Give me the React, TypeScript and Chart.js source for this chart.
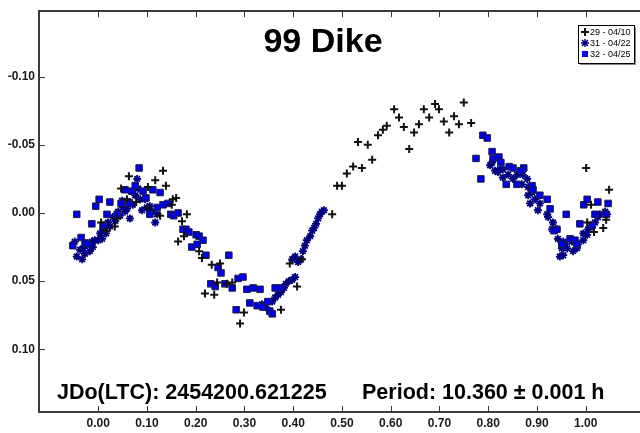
import React, { useEffect, useRef } from 'react';
import { Chart, registerables } from 'chart.js';

Chart.register(...registerables);

const TITLE = '99 Dike';
const JD_TEXT = 'JDo(LTC): 2454200.621225';
const PERIOD_TEXT = 'Period: 10.360 \u00b1 0.001 h';
const SERIES_LABELS = ['29 - 04/10', '31 - 04/22', '32 - 04/25'];

const X_TICKS = [0, 0.1, 0.2, 0.3, 0.4, 0.5, 0.6, 0.7, 0.8, 0.9, 1.0];
const Y_TICKS = [-0.1, -0.05, 0, 0.05, 0.1];
const X_MIN = -0.1214;
const X_MAX = 1.1114;
const Y_MIN = -0.148;
const Y_MAX = 0.146;

// Session 29 - 04/10 (black plus)
const set29: [number, number][] = [
  [0.133, -0.031], [0.063, -0.027], [0.117, -0.024], [0.139, -0.020], [0.047, -0.018],
  [0.102, -0.019], [0.059, -0.010], [0.078, -0.008], [0.153, -0.010], [0.160, -0.011],
  [0.127, 0.002], [0.182, 0.001], [0.172, 0.006], [0.006, 0.007], [0.039, 0.004],
  [0.018, 0.013], [0.034, 0.010], [0.164, 0.021], [0.176, 0.017], [0.151, -0.006],
  [0.102, -0.004], [0.207, 0.028], [0.213, 0.033],
  [0.233, 0.038], [0.250, 0.037], [0.219, 0.059], [0.238, 0.060], [0.244, 0.051],
  [0.264, 0.052], [0.275, 0.051], [0.291, 0.081], [0.299, 0.073], [0.375, 0.071],
  [0.408, 0.054], [0.393, 0.037], [0.418, 0.034], [0.480, 0.001],
  [0.490, -0.020], [0.500, -0.020], [0.510, -0.029], [0.523, -0.034], [0.541, -0.033],
  [0.562, -0.039], [0.533, -0.052], [0.553, -0.050], [0.574, -0.057], [0.584, -0.061],
  [0.592, -0.064], [0.607, -0.076], [0.617, -0.070], [0.627, -0.063], [0.638, -0.047],
  [0.648, -0.059], [0.658, -0.065], [0.668, -0.076], [0.679, -0.070], [0.691, -0.080],
  [0.699, -0.076], [0.709, -0.067], [0.720, -0.059], [0.730, -0.071], [0.740, -0.065],
  [0.750, -0.081], [0.765, -0.066],
  [1.001, -0.033], [1.048, -0.017], [1.011, -0.006], [1.003, 0.007], [1.042, 0.005],
  [1.017, 0.014], [1.036, 0.011],
];

// Session 31 - 04/22 (navy asterisk)
const set31: [number, number][] = [
  [-0.048, 0.021], [-0.044, 0.032], [-0.037, 0.027], [-0.031, 0.026], [-0.027, 0.030],
  [-0.021, 0.023], [-0.017, 0.028], [-0.011, 0.025], [-0.007, 0.020], [0.000, 0.020],
  [0.004, 0.015], [0.008, 0.019], [0.010, 0.012], [0.016, 0.015], [0.020, 0.007],
  [0.024, 0.010], [0.030, 0.003], [0.035, 0.006], [0.041, -0.001], [0.045, 0.002],
  [0.049, -0.009], [0.051, -0.004], [0.055, -0.001], [0.059, -0.003], [0.065, 0.004],
  [0.065, -0.008], [0.071, -0.006], [0.076, -0.013], [0.080, -0.025], [0.082, -0.018],
  [0.086, -0.010], [0.090, -0.002], [0.096, -0.010], [0.100, -0.004], [0.106, -0.005],
  [0.110, -0.001], [0.117, 0.007], [0.121, 0.001], [-0.033, 0.034], [-0.013, 0.021],
  [0.336, 0.067], [0.344, 0.069], [0.352, 0.072], [0.357, 0.065], [0.363, 0.062],
  [0.369, 0.060], [0.375, 0.058], [0.381, 0.055], [0.385, 0.052], [0.391, 0.050],
  [0.398, 0.049], [0.404, 0.047], [0.398, 0.034], [0.404, 0.032], [0.410, 0.036],
  [0.416, 0.034], [0.420, 0.028], [0.424, 0.024], [0.428, 0.020], [0.435, 0.017],
  [0.439, 0.013], [0.443, 0.011], [0.447, 0.008], [0.451, 0.004], [0.455, 0.001],
  [0.459, -0.001], [0.463, -0.002],
  [0.804, -0.035], [0.814, -0.031], [0.820, -0.030], [0.830, -0.032], [0.830, -0.026],
  [0.841, -0.028], [0.851, -0.025], [0.859, -0.028], [0.871, -0.028], [0.880, -0.025],
  [0.869, -0.021], [0.882, -0.019], [0.890, -0.015], [0.882, -0.013], [0.896, -0.010],
  [0.886, -0.007], [0.906, -0.007], [0.902, -0.002], [0.921, 0.001], [0.923, 0.003],
  [0.933, 0.007], [0.931, 0.012], [0.941, 0.012], [0.943, 0.019], [0.954, 0.021],
  [0.951, 0.026], [0.962, 0.026], [0.972, 0.021], [0.974, 0.028], [0.984, 0.023],
  [0.995, 0.020], [1.003, 0.016], [1.005, 0.012], [1.013, 0.010], [1.019, 0.007],
  [1.025, 0.003], [1.029, 0.001], [1.040, -0.001], [1.044, 0.001], [0.954, 0.031],
  [0.947, 0.032], [0.982, 0.026], [0.995, 0.015], [0.808, -0.037], [0.824, -0.032],
  [0.958, 0.023],
];

// Session 32 - 04/25 (blue square)
const set32: [number, number][] = [
  [-0.044, 0.001], [-0.052, 0.024], [-0.035, 0.018], [-0.027, 0.022], [-0.021, 0.023],
  [-0.013, 0.008], [-0.005, -0.005], [0.002, -0.010], [0.024, -0.008], [0.018, 0.001],
  [0.010, 0.009], [0.039, 0.001], [0.047, -0.007], [0.055, -0.017], [0.063, -0.007],
  [0.069, -0.016], [0.076, -0.020], [0.084, -0.033], [0.092, -0.016], [0.098, -0.011],
  [0.106, 0.001], [0.112, -0.017], [0.121, -0.004], [0.127, -0.015], [0.133, -0.006],
  [0.143, -0.007], [0.149, 0.001], [0.155, 0.002], [0.164, 0.000], [0.174, 0.012],
  [0.180, 0.012], [0.186, 0.014], [0.201, 0.016], [0.192, 0.025], [0.203, 0.023],
  [0.207, 0.017], [0.221, 0.031], [0.215, 0.020],
  [0.246, 0.040], [0.252, 0.044], [0.268, 0.031], [0.231, 0.052], [0.240, 0.054],
  [0.260, 0.052], [0.275, 0.055], [0.287, 0.048], [0.297, 0.047], [0.305, 0.056],
  [0.318, 0.055], [0.332, 0.056], [0.283, 0.071], [0.311, 0.066], [0.326, 0.068],
  [0.338, 0.069], [0.352, 0.072], [0.363, 0.055], [0.373, 0.055], [0.348, 0.065],
  [0.357, 0.074],
  [0.789, -0.057], [0.798, -0.055], [0.775, -0.040], [0.785, -0.025], [0.808, -0.045],
  [0.810, -0.040], [0.822, -0.041], [0.826, -0.037], [0.843, -0.034], [0.851, -0.033],
  [0.873, -0.033], [0.867, -0.031], [0.859, -0.021], [0.837, -0.021], [0.890, -0.020],
  [0.892, -0.017], [0.906, -0.013], [0.921, -0.010], [0.927, -0.003], [0.960, 0.001],
  [0.988, 0.008], [0.996, -0.006], [1.003, -0.010], [1.025, -0.008], [1.046, -0.007],
  [1.042, 0.001], [1.019, 0.001], [0.941, 0.012], [0.935, 0.013], [0.968, 0.019],
  [0.978, 0.020], [0.951, 0.023], [0.982, 0.023], [1.013, 0.009],
];

const FONT = '"Liberation Sans", Arial, Helvetica, sans-serif';
const AXIS_COLOR = '#3a3a3a';
const PLUS_COLOR = '#111111';
const STAR_COLOR = '#000080';
const SQUARE_FILL = '#0000F0';
const SQUARE_EDGE = '#1c1c3c';

const toXY = (arr: [number, number][]) => arr.map(([x, y]) => ({ x, y }));

const decorPlugin = {
  id: 'decor',
  afterDraw(chart: any) {
    const { ctx, chartArea: a, scales } = chart;
    const xs = scales.x;
    const ys = scales.y;
    ctx.save();
    ctx.strokeStyle = AXIS_COLOR;
    ctx.lineWidth = 1;
    ctx.beginPath();
    X_TICKS.forEach((v) => {
      const px = Math.round(xs.getPixelForValue(v)) + 0.5;
      ctx.moveTo(px, a.bottom);
      ctx.lineTo(px, a.bottom - 6);
      ctx.moveTo(px, a.top);
      ctx.lineTo(px, a.top + 6);
    });
    Y_TICKS.forEach((v) => {
      const py = Math.round(ys.getPixelForValue(v)) + 0.5;
      ctx.moveTo(a.left, py);
      ctx.lineTo(a.left + 6, py);
    });
    ctx.stroke();

    // Title
    ctx.fillStyle = '#000';
    ctx.textBaseline = 'middle';
    ctx.textAlign = 'center';
    ctx.font = `bold 34px ${FONT}`;
    ctx.fillText(TITLE, 323, 43);

    // Bottom annotations
    ctx.textAlign = 'left';
    ctx.font = `bold 21.5px ${FONT}`;
    ctx.fillText(JD_TEXT, 57, 393);
    ctx.fillText(PERIOD_TEXT, 362, 393);

    // Legend box
    const lx = 578, ly = 25, lw = 56, lh = 38;
    ctx.fillStyle = '#888';
    ctx.fillRect(lx + 2, ly + 2, lw, lh);
    ctx.fillStyle = '#fff';
    ctx.fillRect(lx, ly, lw, lh);
    ctx.strokeStyle = '#000';
    ctx.lineWidth = 1;
    ctx.strokeRect(lx + 0.5, ly + 0.5, lw, lh);

    const rows = [32, 43, 54];
    const mx = 585;
    // plus
    ctx.strokeStyle = PLUS_COLOR;
    ctx.lineWidth = 2;
    ctx.beginPath();
    ctx.moveTo(mx - 4, rows[0]); ctx.lineTo(mx + 4, rows[0]);
    ctx.moveTo(mx, rows[0] - 4); ctx.lineTo(mx, rows[0] + 4);
    ctx.stroke();
    // star
    ctx.strokeStyle = STAR_COLOR;
    ctx.lineWidth = 1.5;
    ctx.beginPath();
    ctx.moveTo(mx - 4, rows[1]); ctx.lineTo(mx + 4, rows[1]);
    ctx.moveTo(mx, rows[1] - 4); ctx.lineTo(mx, rows[1] + 4);
    ctx.moveTo(mx - 3, rows[1] - 3); ctx.lineTo(mx + 3, rows[1] + 3);
    ctx.moveTo(mx - 3, rows[1] + 3); ctx.lineTo(mx + 3, rows[1] - 3);
    ctx.stroke();
    // square
    ctx.fillStyle = SQUARE_FILL;
    ctx.fillRect(mx - 3, rows[2] - 3, 6, 6);

    ctx.fillStyle = '#000';
    ctx.font = `9px ${FONT}`;
    ctx.textAlign = 'left';
    SERIES_LABELS.forEach((t, i) => ctx.fillText(t, 590, rows[i] + 0.5));
    ctx.restore();
  },
};

export default function App() {
  const ref = useRef<HTMLCanvasElement | null>(null);

  useEffect(() => {
    document.body.style.margin = '0';
    const canvas = ref.current;
    if (!canvas) return;
    const tickFont = { family: FONT, size: 12, weight: 'bold' as const };
    const chart = new Chart(canvas, {
      type: 'scatter',
      data: {
        datasets: [
          {
            label: SERIES_LABELS[0],
            data: toXY(set29),
            pointStyle: 'cross',
            pointRadius: 4,
            pointBorderWidth: 2,
            pointBorderColor: PLUS_COLOR,
            pointBackgroundColor: PLUS_COLOR,
          },
          {
            label: SERIES_LABELS[2],
            data: toXY(set32),
            pointStyle: 'rect',
            pointRadius: 4.6,
            pointBorderWidth: 1,
            pointBorderColor: SQUARE_EDGE,
            pointBackgroundColor: SQUARE_FILL,
          },
          {
            label: SERIES_LABELS[1],
            data: toXY(set31),
            pointStyle: 'star',
            pointRadius: 4,
            pointBorderWidth: 1.8,
            pointBorderColor: STAR_COLOR,
            pointBackgroundColor: STAR_COLOR,
          },
        ],
      },
      options: {
        animation: false,
        responsive: false,
        events: [],
        layout: { padding: 0, autoPadding: false },
        plugins: {
          legend: { display: false },
          tooltip: { enabled: false },
          title: { display: false },
        },
        scales: {
          x: {
            type: 'linear',
            position: 'bottom',
            min: X_MIN,
            max: X_MAX,
            afterBuildTicks: (s: any) => {
              s.ticks = X_TICKS.map((v) => ({ value: v }));
            },
            afterFit: (s: any) => {
              s.height = 21;
            },
            grid: { display: false, drawTicks: false },
            border: { display: true, color: AXIS_COLOR, width: 2 },
            ticks: {
              padding: 4,
              font: tickFont,
              color: '#1a1a1a',
              autoSkip: false,
              maxRotation: 0,
              callback: (v: any) => Number(v).toFixed(2),
            },
          },
          xTop: {
            type: 'linear',
            position: 'top',
            min: X_MIN,
            max: X_MAX,
            afterFit: (s: any) => {
              s.height = 8;
            },
            grid: { display: false, drawTicks: false },
            border: { display: true, color: AXIS_COLOR, width: 2 },
            ticks: { display: false },
          },
          y: {
            type: 'linear',
            position: 'left',
            reverse: true,
            min: Y_MIN,
            max: Y_MAX,
            afterBuildTicks: (s: any) => {
              s.ticks = Y_TICKS.map((v) => ({ value: v }));
            },
            afterFit: (s: any) => {
              s.width = 39;
            },
            grid: { display: false, drawTicks: false },
            border: { display: true, color: AXIS_COLOR, width: 2 },
            ticks: {
              padding: 4,
              font: tickFont,
              color: '#1a1a1a',
              autoSkip: false,
              callback: (v: any) => Number(v).toFixed(2),
            },
          },
        },
      },
      plugins: [decorPlugin],
    });
    return () => chart.destroy();
  }, []);

  return (
    <div style={{ width: 640, height: 433, background: '#fff' }}>
      <canvas ref={ref} width={640} height={433} style={{ display: 'block' }} />
    </div>
  );
}
